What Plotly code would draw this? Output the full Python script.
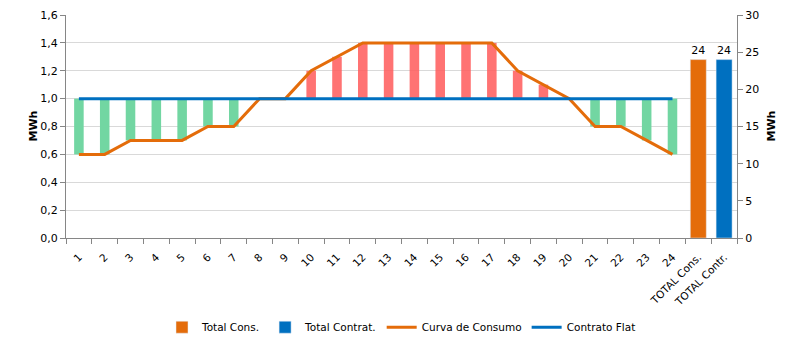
import plotly.graph_objects as go

hours = [str(h) for h in range(1, 25)]
total_labels = ["TOTAL Cons.", "TOTAL Contr."]
categories = hours + total_labels

consumo = [0.6, 0.6, 0.7, 0.7, 0.7, 0.8, 0.8, 1.0, 1.0, 1.2, 1.3, 1.4,
           1.4, 1.4, 1.4, 1.4, 1.4, 1.2, 1.1, 1.0, 0.8, 0.8, 0.7, 0.6]
contrato = [1.0] * 24
total_cons = 24
total_contr = 24

ORANGE = "#E46C0A"
BLUE = "#0070C0"
RED_BAR = "rgba(255,90,90,0.85)"
GREEN_BAR = "#72D6A2"
FONT = "DejaVu Sans"

diff = [round(c - f, 3) for c, f in zip(consumo, contrato)]
bar_colors = [RED_BAR if d >= 0 else GREEN_BAR for d in diff]

fig = go.Figure()

# up/down bars between consumption and flat contract
fig.add_trace(go.Bar(
    x=hours, y=diff, base=contrato,
    marker=dict(color=bar_colors, line=dict(width=0)),
    width=0.37, showlegend=False, hoverinfo="skip",
))

fig.add_trace(go.Scatter(
    x=hours, y=consumo, mode="lines", name="Curva de Consumo",
    line=dict(color=ORANGE, width=3), legendrank=3,
))
fig.add_trace(go.Scatter(
    x=hours, y=contrato, mode="lines", name="Contrato Flat",
    line=dict(color=BLUE, width=3), legendrank=4,
))

fig.add_trace(go.Bar(
    x=[total_labels[0]], y=[total_cons], yaxis="y2", name="Total Cons.",
    marker=dict(color=ORANGE), width=0.62, text=[str(total_cons)],
    textposition="outside", textfont=dict(size=11, color="#000"),
    cliponaxis=False, legendrank=1,
))
fig.add_trace(go.Bar(
    x=[total_labels[1]], y=[total_contr], yaxis="y2", name="Total Contrat.",
    marker=dict(color=BLUE), width=0.62, text=[str(total_contr)],
    textposition="outside", textfont=dict(size=11, color="#000"),
    cliponaxis=False, legendrank=2,
))

axis_col = "#868686"
fig.update_layout(
    width=800, height=349,
    margin=dict(l=66, r=63, t=15, b=111, autoexpand=False),
    paper_bgcolor="white", plot_bgcolor="white",
    font=dict(family=FONT, size=10, color="#000"),
    separators=",.",
    barmode="overlay",
    showlegend=True,
    legend=dict(orientation="h", x=0.5, xanchor="center", y=-0.40,
                yanchor="middle", font=dict(size=10.5), traceorder="normal"),
    xaxis=dict(type="category", categoryorder="array", categoryarray=categories,
               range=[-0.5, len(categories) - 0.5], automargin=False,
               showline=True, linecolor=axis_col, linewidth=1,
               ticks="outside", tickson="boundaries", ticklen=5, tickcolor=axis_col,
               tickangle=-45, showgrid=False, tickfont=dict(size=10.5),
               ticklabelstandoff=8),
    yaxis=dict(range=[0, 1.6], dtick=0.2, tickformat=".1f", automargin=False,
               showline=True, linecolor=axis_col, linewidth=1,
               ticks="outside", ticklen=5, tickcolor=axis_col,
               showgrid=True, gridcolor="#D9D9D9", gridwidth=1,
               zeroline=False, tickfont=dict(size=11)),
    yaxis2=dict(range=[0, 30], dtick=5, overlaying="y", side="right",
                automargin=False,
                showline=True, linecolor=axis_col, linewidth=1,
                ticks="outside", ticklen=5, tickcolor=axis_col,
                showgrid=False, zeroline=False, tickfont=dict(size=11)),
)
plot_w = 800 - 66 - 63
plot_h = 349 - 15 - 111
fig.add_annotation(text="<b>MWh</b>", xref="paper", yref="paper",
                   x=(24 - 66) / plot_w, y=(349 - 111 - 126) / plot_h,
                   showarrow=False, textangle=-90, font=dict(size=11))
fig.add_annotation(text="<b>MWh</b>", xref="paper", yref="paper",
                   x=(779 - 66) / plot_w, y=(349 - 111 - 126) / plot_h,
                   showarrow=False, textangle=-90, font=dict(size=11))

fig.write_html("out.html")
